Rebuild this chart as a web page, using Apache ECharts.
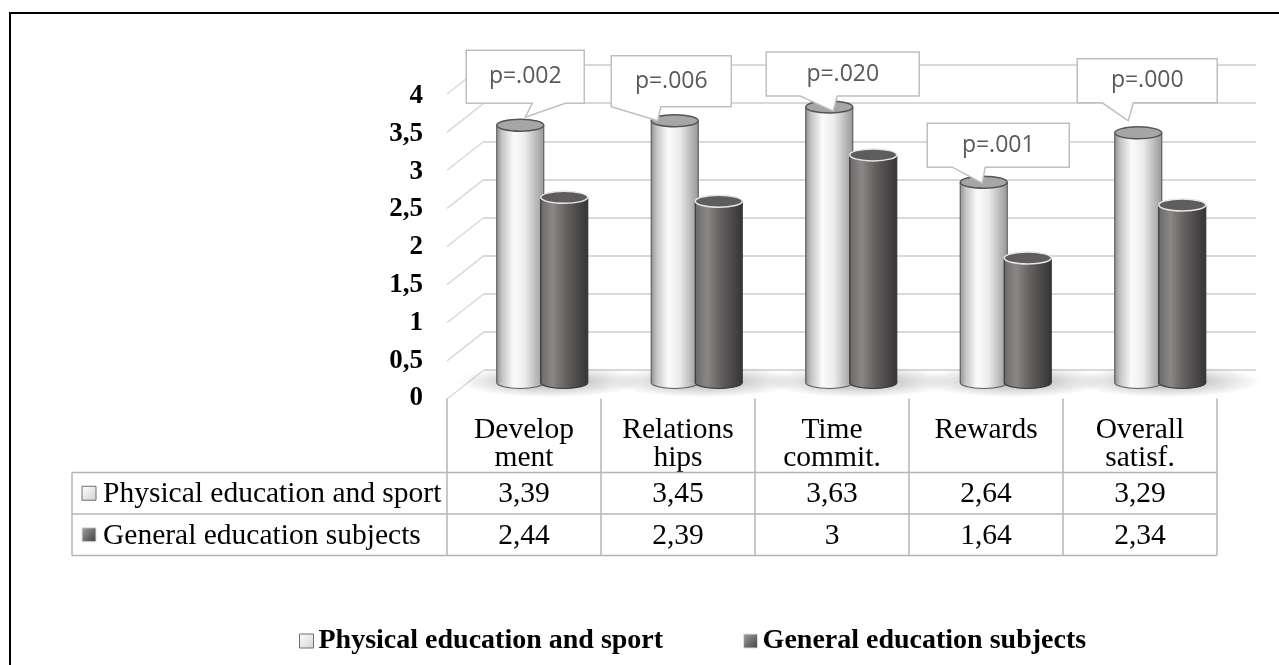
<!DOCTYPE html>
<html><head><meta charset="utf-8">
<script src="https://cdn.jsdelivr.net/npm/echarts@6/dist/echarts.min.js"></script>
<style>html,body{margin:0;padding:0;background:#fff;}#c{width:1279px;height:665px;}</style>
</head><body><div id="c"></div>
<script>
// ---------- data ----------
const categories = ['Develop\nment', 'Relations\nhips', 'Time\ncommit.', 'Rewards', 'Overall\nsatisf.'];
const seriesNames = ['Physical education and sport', 'General education subjects'];
const physValues = [3.39, 3.45, 3.63, 2.64, 3.29];
const genValues = [2.44, 2.39, 3, 1.64, 2.34];
const pLabels = ['p=.002', 'p=.006', 'p=.020', 'p=.001', 'p=.000'];
const yTickValues = [0, 0.5, 1, 1.5, 2, 2.5, 3, 3.5, 4];
const yTickLabels = ['0', '0,5', '1', '1,5', '2', '2,5', '3', '3,5', '4'];

// ---------- layout / style ----------
const W = 1279, H = 665;
const SERIF = '"Liberation Serif", "Times New Roman", serif';
const SANS = '"Open Sans", "Liberation Sans", sans-serif';
const GRID_LINE = '#d9d9d9';
const TABLE_LINE = '#b4b4b4';
const TABLE_FONT = 29.5;
const DEPTH = { dx: -37, dy: 29 };           // back wall -> front edge
const HEADER_H = 74, ROW_H = 41.5, TABLE_LEFT = 72;
// callout boxes, relative to the top of the light cylinder
const CALLOUTS = [
  { bx: 5,    by: -22, w: 118, h: 53, tx: 5,    ty: -8, b0: 12,    b1: 45 },
  { bx: -3.5, by: -14, w: 120, h: 51, tx: -17,  ty: 0,  b0: -63.5, b1: -14 },
  { bx: 13.5, by: -11, w: 153, h: 44, tx: 4,    ty: 4,  b0: -29,   b1: 8 },
  { bx: 14.5, by: -15, w: 142, h: 44, tx: -1.5, ty: 1,  b0: -31.5, b1: 1.5 },
  { bx: 9,    by: -30, w: 140, h: 44, tx: -10,  ty: -12, b0: -36,  b1: -5 }
];

const fmt = v => String(v).replace('.', ',');

const LIGHT = {
  body: [
    { offset: 0, color: '#959595' }, { offset: 0.12, color: '#c6c6c6' },
    { offset: 0.36, color: '#fbfbfb' }, { offset: 0.6, color: '#ececec' },
    { offset: 0.88, color: '#b2b2b2' }, { offset: 1, color: '#999999' }
  ],
  edge: '#5f5f5f', top: '#a6a6a6', rim: '#555555'
};
const DARK = {
  body: [
    { offset: 0, color: '#6c6969' }, { offset: 0.25, color: '#8b8787' },
    { offset: 0.55, color: '#625f5f' }, { offset: 1, color: '#363434' }
  ],
  edge: '#383636', top: '#5f5c5c', rim: '#e6e6e6'
};

function cylinder(side, st) {
  return function (params, api) {
    const i = api.value(0), v = api.value(1);
    const top = api.coord([i, v]);
    const base = api.coord([i, 0]);
    const band = api.size([1, 0])[0];
    const w = band * 0.304, rx = w / 2, ry = 6;
    const cx = top[0] + side * band * 0.1424;
    const fill = new echarts.graphic.LinearGradient(0, 0, 1, 0, st.body);
    return {
      type: 'group', children: [
        { type: 'ellipse', shape: { cx: cx, cy: base[1], rx: rx, ry: ry }, style: { fill: fill, stroke: st.edge, lineWidth: 1.2 } },
        { type: 'rect', shape: { x: cx - rx, y: top[1], width: w, height: base[1] - top[1] }, style: { fill: fill } },
        { type: 'line', shape: { x1: cx - rx, y1: top[1], x2: cx - rx, y2: base[1] }, style: { stroke: st.edge, lineWidth: 1.2 } },
        { type: 'line', shape: { x1: cx + rx, y1: top[1], x2: cx + rx, y2: base[1] }, style: { stroke: st.edge, lineWidth: 1.2 } },
        { type: 'ellipse', shape: { cx: cx, cy: top[1], rx: rx, ry: ry }, style: { fill: st.top, stroke: st.rim, lineWidth: 1.5 } }
      ]
    };
  };
}

function shadowRender(params, api) {
  const i = api.value(0);
  const c = api.coord([i, 0]);
  const band = api.size([1, 0])[0];
  const rx = band * 0.6, ry = 16;
  return {
    type: 'circle', shape: { cx: 0, cy: 0, r: ry }, x: c[0] + band * 0.05, y: c[1] - 1,
    scaleX: rx / ry, scaleY: 1,
    style: {
      fill: new echarts.graphic.RadialGradient(0.5, 0.5, 0.5, [
        { offset: 0, color: 'rgba(0,0,0,0.34)' }, { offset: 0.5, color: 'rgba(0,0,0,0.16)' }, { offset: 1, color: 'rgba(0,0,0,0)' }
      ])
    }
  };
}

function diagonalRender(params, api) {
  const v = api.value(0);
  const p = api.coord([0, v]);
  const band = api.size([1, 0])[0];
  const x = p[0] - band / 2;
  return { type: 'line', shape: { x1: x, y1: p[1], x2: x + DEPTH.dx, y2: p[1] + DEPTH.dy }, style: { stroke: GRID_LINE, lineWidth: 1.5 } };
}

function calloutRender(params, api) {
  const i = api.value(0), v = api.value(1);
  const L = CALLOUTS[i];
  const band = api.size([1, 0])[0];
  const p = api.coord([i, v]);
  const cx = p[0] - band * 0.1424, ty = p[1];
  const bl = cx + L.bx - L.w / 2, br = bl + L.w;
  const bb = ty + L.by, bt = bb - L.h;
  const pts = [[bl, bt], [br, bt], [br, bb], [cx + L.b1, bb], [cx + L.tx, ty + L.ty], [cx + L.b0, bb], [bl, bb]];
  return {
    type: 'group', children: [
      { type: 'polygon', shape: { points: pts }, style: { fill: '#fff', stroke: '#bfbfbf', lineWidth: 1.5 } },
      { type: 'text', style: { text: pLabels[i], x: (bl + br) / 2, y: (bt + bb) / 2, align: 'center', verticalAlign: 'middle', textAlign: 'center', textVerticalAlign: 'middle', font: '23px ' + SANS, fill: '#595959' } }
    ]
  };
}

function marker(x, y, dark) {
  return {
    type: 'rect', shape: { x: x, y: y - 7, width: 14, height: 14 },
    style: dark
      ? { fill: new echarts.graphic.LinearGradient(0, 0, 1, 1, [{ offset: 0, color: '#a6a2a2' }, { offset: 1, color: '#3f3d3d' }]), stroke: '#e0e0e0', lineWidth: 1 }
      : { fill: new echarts.graphic.LinearGradient(0, 0, 1, 1, [{ offset: 0, color: '#ffffff' }, { offset: 1, color: '#d2d2d2' }]), stroke: '#6e6e6e', lineWidth: 1 }
  };
}

function tableRender(params, api) {
  const i = api.value(0);
  const c = api.coord([i, 0]);
  const band = api.size([1, 0])[0];
  const x0 = c[0] - band / 2, x1 = c[0] + band / 2;
  const yTop = c[1], yH = yTop + HEADER_H, y1 = yH + ROW_H, y2 = y1 + ROW_H;
  const line = (a, b, cc, d) => ({ type: 'line', shape: { x1: a, y1: b, x2: cc, y2: d }, style: { stroke: TABLE_LINE, lineWidth: 1.5 } });
  const txt = (s, x, y, align) => ({ type: 'text', style: { text: s, x: x, y: y, align: align, verticalAlign: 'middle', textAlign: align, textVerticalAlign: 'middle', font: TABLE_FONT + 'px ' + SERIF, fill: '#000' } });
  const ch = [
    line(x0, yTop, x0, y2),
    txt(fmt(api.value(1)), c[0], (yH + y1) / 2 + 1, 'center'),
    txt(fmt(api.value(2)), c[0], (y1 + y2) / 2 + 1, 'center')
  ];
  if (i === categories.length - 1) ch.push(line(x1, yTop, x1, y2));
  if (i === 0) {
    const xEnd = x0 + band * categories.length;
    ch.push(line(TABLE_LEFT, yH, xEnd, yH), line(TABLE_LEFT, y1, xEnd, y1), line(TABLE_LEFT, y2, xEnd, y2), line(TABLE_LEFT, yH, TABLE_LEFT, y2));
    ch.push(marker(TABLE_LEFT + 10, (yH + y1) / 2, false), txt(seriesNames[0], TABLE_LEFT + 31, (yH + y1) / 2 + 1, 'left'));
    ch.push(marker(TABLE_LEFT + 10, (y1 + y2) / 2, true), txt(seriesNames[1], TABLE_LEFT + 31, (y1 + y2) / 2 + 1, 'left'));
  }
  return { type: 'group', children: ch };
}

const chart = echarts.init(document.getElementById('c'), null, { renderer: 'canvas' });
const valAxisBase = { type: 'value', min: 0, max: 4, interval: 0.5 };

chart.setOption({
  animation: false,
  backgroundColor: '#fff',
  grid: [
    { left: 465, right: W - 1237.5, top: 79, bottom: H - 382.5 },   // mid plane (bars)
    { left: 484, right: W - 1256, top: 65, bottom: H - 370 },       // back wall
    { left: 447, right: W - 1217, top: 96, bottom: H - 398.5 }      // front edge (labels, table)
  ],
  xAxis: [
    { gridIndex: 0, type: 'category', data: categories, show: false },
    { gridIndex: 1, type: 'category', data: categories, show: false },
    { gridIndex: 2, type: 'category', data: categories, axisLine: { show: false }, axisTick: { show: false },
      axisLabel: { interval: 0, margin: 17, fontFamily: SERIF, fontSize: TABLE_FONT, lineHeight: 28.5, color: '#000' } }
  ],
  yAxis: [
    Object.assign({ gridIndex: 0, show: false }, valAxisBase),
    Object.assign({ gridIndex: 1, axisLine: { show: false }, axisTick: { show: false }, axisLabel: { show: false },
      splitLine: { show: true, lineStyle: { color: GRID_LINE, width: 1.8 } } }, valAxisBase),
    Object.assign({ gridIndex: 2, axisLine: { show: false }, axisTick: { show: false }, splitLine: { show: false },
      axisLabel: { margin: 24, fontFamily: SERIF, fontWeight: 'bold', fontSize: 27, color: '#000',
        formatter: v => yTickLabels[yTickValues.indexOf(v)] } }, valAxisBase)
  ],
  legend: {
    left: 294, top: 622, itemWidth: 14, itemHeight: 14, itemGap: 80,
    textStyle: { fontFamily: SERIF, fontWeight: 'bold', fontSize: 28, color: '#000' },
    data: [
      { name: seriesNames[0], icon: 'rect', itemStyle: { color: new echarts.graphic.LinearGradient(0, 0, 1, 1, [{ offset: 0, color: '#fff' }, { offset: 1, color: '#d2d2d2' }]), borderColor: '#6e6e6e', borderWidth: 1 } },
      { name: seriesNames[1], icon: 'rect', itemStyle: { color: new echarts.graphic.LinearGradient(0, 0, 1, 1, [{ offset: 0, color: '#a6a2a2' }, { offset: 1, color: '#3f3d3d' }]), borderColor: '#e0e0e0', borderWidth: 1 } }
    ]
  },
  graphic: [
    { type: 'rect', shape: { x: 10, y: 13, width: 1400, height: 800 }, style: { fill: 'none', stroke: '#000', lineWidth: 2 }, z: 100, silent: true }
  ],
  series: [
    { type: 'custom', name: 'diag', xAxisIndex: 1, yAxisIndex: 1, renderItem: diagonalRender, data: yTickValues.map(v => [v]), silent: true, z: 1 },
    { type: 'custom', name: 'shadow', xAxisIndex: 0, yAxisIndex: 0, renderItem: shadowRender, data: categories.map((c, i) => [i, 0]), silent: true, z: 1 },
    { type: 'custom', name: seriesNames[0], xAxisIndex: 0, yAxisIndex: 0, renderItem: cylinder(-1, LIGHT),
      itemStyle: { color: '#e8e8e8' }, data: physValues.map((v, i) => [i, v]), z: 2 },
    { type: 'custom', name: seriesNames[1], xAxisIndex: 0, yAxisIndex: 0, renderItem: cylinder(1, DARK),
      itemStyle: { color: '#5a5757' }, data: genValues.map((v, i) => [i, v]), z: 3 },
    { type: 'custom', name: 'callouts', xAxisIndex: 0, yAxisIndex: 0, renderItem: calloutRender, data: physValues.map((v, i) => [i, v]), silent: true, z: 5 },
    { type: 'custom', name: 'table', xAxisIndex: 2, yAxisIndex: 2, renderItem: tableRender, data: physValues.map((v, i) => [i, v, genValues[i]]), silent: true, z: 4 }
  ]
});
</script></body></html>
